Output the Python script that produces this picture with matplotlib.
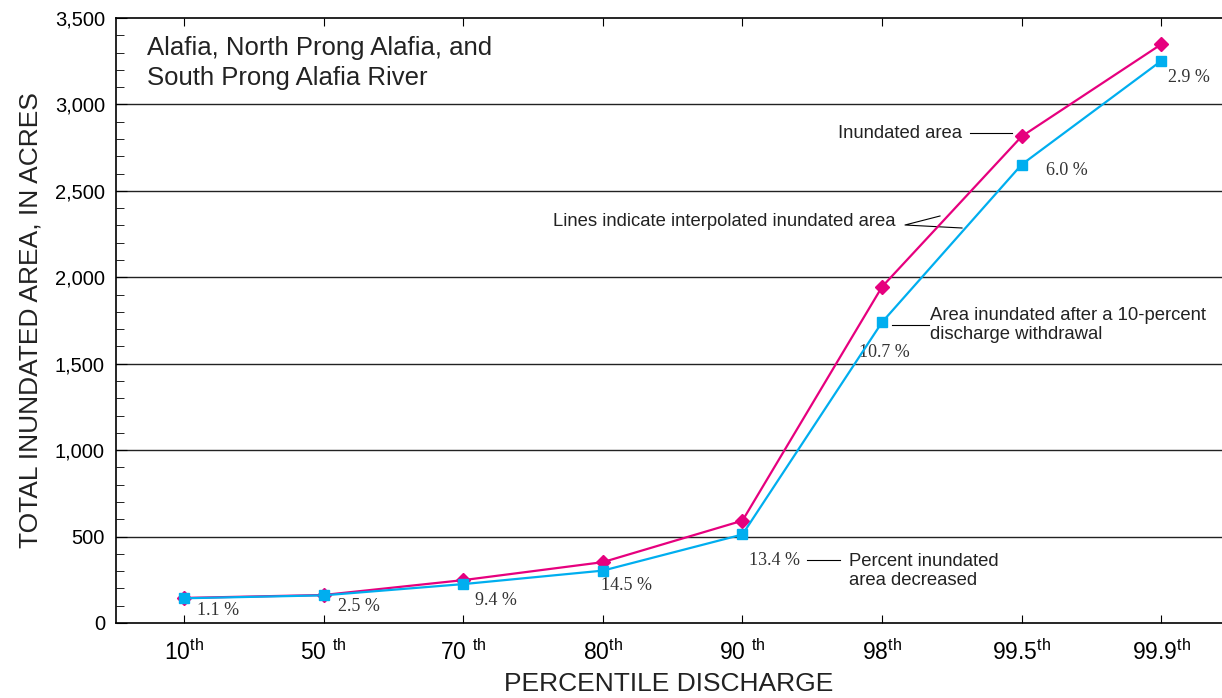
import matplotlib.pyplot as plt
from matplotlib.ticker import FuncFormatter, MultipleLocator

plt.rcParams['font.family'] = ['Liberation Sans', 'DejaVu Sans']
plt.rcParams['mathtext.fontset'] = 'custom'
plt.rcParams['mathtext.rm'] = 'Liberation Sans'

percentiles = ['10', '50 ', '70 ', '80', '90 ', '98', '99.5', '99.9']
inundated = [145, 162, 248, 352, 592, 1945, 2815, 3348]
withdrawal = [143, 160, 225, 303, 512, 1740, 2652, 3252]
pct_decrease = [1.1, 2.5, 9.4, 14.5, 13.4, 10.7, 6.0, 2.9]

# label offsets in pixels from the blue markers
pct_offsets = [(13, -12), (14, -11), (12, -16), (-2, -15), (7, -26), (-23, -30), (24, -6), (7, -17)]

pink = '#E6007E'
blue = '#00AEEF'

fig = plt.figure(figsize=(12.22, 6.98), dpi=100)
ax = fig.add_axes([116 / 1222, 1 - 623 / 698, 1 - 116 / 1222, (623 - 18) / 698])

x = list(range(len(percentiles)))
ax.plot(x, inundated, color=pink, lw=1.6, marker='D', ms=7, zorder=3)
ax.plot(x, withdrawal, color=blue, lw=1.6, marker='s', ms=7.5, zorder=4)

for i in x:
    ax.annotate('%.1f %%' % pct_decrease[i], (i, withdrawal[i]), xytext=pct_offsets[i],
                textcoords='offset pixels', family='Liberation Serif', fontsize=13,
                color='#333333', ha='left', va='center')

ax.set_xlim(-0.487, 7.435)
ax.set_ylim(0, 3500)
ax.set_xticks(x)
ax.set_xticklabels([p + r'$^{\mathrm{th}}$' for p in percentiles], fontsize=16.5)
ax.yaxis.set_major_locator(MultipleLocator(500))
ax.yaxis.set_minor_locator(MultipleLocator(100))
ax.yaxis.set_major_formatter(FuncFormatter(lambda v, p: '{:,.0f}'.format(v)))
ax.tick_params(axis='y', which='major', direction='in', length=8, labelsize=14.5, pad=8)
ax.tick_params(axis='y', which='minor', direction='in', length=6)
ax.tick_params(axis='x', direction='in', length=6, top=True, pad=12)
for v in range(500, 3500, 500):
    ax.axhline(v, color='#222222', lw=1, zorder=1)
ax.spines['right'].set_visible(False)
for s in ['left', 'bottom', 'top']:
    ax.spines[s].set_linewidth(1.2)

ax.set_ylabel('TOTAL INUNDATED AREA, IN ACRES', fontsize=19, labelpad=9, color='#222222')
ax.set_xlabel('PERCENTILE DISCHARGE', fontsize=19, labelpad=5, color='#222222')

ax.text(147, 698 - 63, 'Alafia, North Prong Alafia, and\nSouth Prong Alafia River',
        transform=None, fontsize=18.5, va='center', linespacing=1.3, color='#222222')

def px(xp, yp):
    return ax.transData.inverted().transform((xp, 698 - yp))

ann = dict(fontsize=13.3, color='#222222', va='center')
ax.text(*px(838, 133), 'Inundated area', ha='left', **ann)
ax.plot(*zip(px(970, 133), px(1012, 133)), color='black', lw=0.8)
ax.text(*px(553, 221), 'Lines indicate interpolated inundated area', ha='left', **ann)
ax.plot(*zip(px(940, 216), px(905, 225), px(962, 228)), color='black', lw=0.8)
ax.text(*px(930, 325), 'Area inundated after a 10-percent\ndischarge withdrawal', ha='left',
        linespacing=1.2, **ann)
ax.plot(*zip(px(892, 325), px(929, 325)), color='black', lw=0.8)
ax.plot(*zip(px(807, 560), px(840, 560)), color='black', lw=0.8)
ax.text(*px(849, 571), 'Percent inundated\narea decreased', ha='left', linespacing=1.2, **ann)

fig.savefig('out.png', dpi=100)
